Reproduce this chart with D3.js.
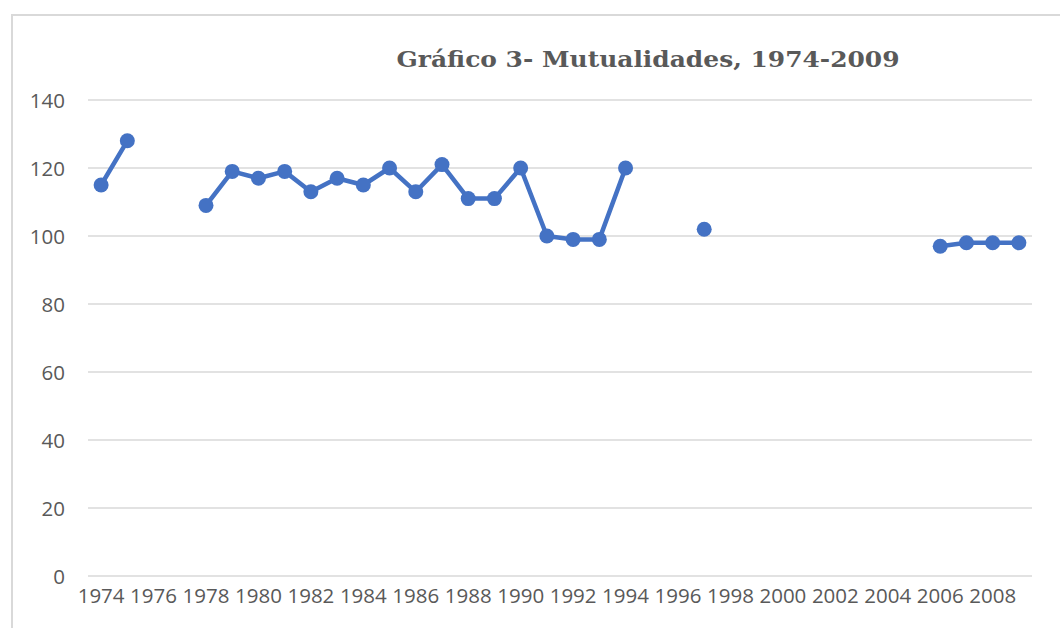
<!DOCTYPE html>
<html>
<head>
<meta charset="utf-8">
<script src="https://cdn.jsdelivr.net/npm/d3@7"></script>
<style>
  body { margin: 0; background: #fff; }
  .tick text { font-family: "Open Sans", Lato, sans-serif; fill: #595959; }
</style>
</head>
<body>
<div id="chart"></div>
<script>
var svgWidth = 1060;
var svgHeight = 628;

// years on the category axis
var years = d3.range(1974, 2010);
// values, null = gap
var values = [115, 128, null, null, 109, 119, 117, 119, 113, 117, 115, 120, 113, 121, 111, 111,
  120, 100, 99, 99, 120, null, null, 102, null, null, null, null, null, null, null, null,
  97, 98, 98, 98];
var yTicks = [0, 20, 40, 60, 80, 100, 120, 140];
var xLabels = years.filter(function(y) { return (y - 1974) % 2 === 0; });

var margin = { top: 100, right: 28, bottom: 52, left: 88 };
var width = svgWidth - margin.left - margin.right;
var height = svgHeight - margin.top - margin.bottom;

var svg = d3.select("#chart")
  .append("svg")
  .attr("width", svgWidth)
  .attr("height", svgHeight);

// outer chart frame
svg.append("rect")
  .attr("x", 12)
  .attr("y", 15)
  .attr("width", 1100)
  .attr("height", 700)
  .attr("fill", "none")
  .attr("stroke", "#d9d9d9")
  .attr("stroke-width", 2);

var chartGroup = svg.append("g")
  .attr("transform", `translate(${margin.left}, ${margin.top})`);

var xScale = d3.scaleBand()
  .domain(years)
  .range([0, width])
  .padding(0);

var yScale = d3.scaleLinear()
  .domain([0, 140])
  .range([height, 0]);

// gridlines
chartGroup.append("g")
  .selectAll("line")
  .data(yTicks)
  .enter()
  .append("line")
  .attr("x1", 0)
  .attr("x2", width)
  .attr("y1", d => yScale(d))
  .attr("y2", d => yScale(d))
  .attr("stroke", "#d9d9d9")
  .attr("stroke-width", 1.5);

// y axis labels
var leftAxis = d3.axisLeft(yScale).tickValues(yTicks).tickSize(0).tickPadding(23);
var yAxis = chartGroup.append("g").call(leftAxis);
yAxis.select(".domain").remove();
yAxis.selectAll("text").attr("font-size", "20.5px").attr("dy", "0.35em");

// x axis labels
var bottomAxis = d3.axisBottom(xScale).tickValues(xLabels).tickSize(0).tickPadding(12);
var xAxis = chartGroup.append("g")
  .attr("transform", `translate(0, ${height})`)
  .call(bottomAxis);
xAxis.select(".domain").remove();
xAxis.selectAll("text").attr("font-size", "20.5px");

var xPos = d => xScale(d.year) + xScale.bandwidth() / 2;
var points = years.map((y, i) => ({ year: y, value: values[i] }));

var line = d3.line()
  .defined(d => d.value !== null)
  .x(xPos)
  .y(d => yScale(d.value));

chartGroup.append("path")
  .datum(points)
  .attr("d", line)
  .attr("fill", "none")
  .attr("stroke", "#4472C4")
  .attr("stroke-width", 4.5)
  .attr("stroke-linejoin", "round");

chartGroup.selectAll("circle")
  .data(points.filter(d => d.value !== null))
  .enter()
  .append("circle")
  .attr("cx", xPos)
  .attr("cy", d => yScale(d.value))
  .attr("r", 7.5)
  .attr("fill", "#4472C4");

// title
svg.append("text")
  .attr("x", 648)
  .attr("y", 67)
  .attr("text-anchor", "middle")
  .attr("font-family", "DejaVu Serif, serif")
  .attr("font-weight", "bold")
  .attr("font-size", "23px")
  .attr("textLength", 503)
  .attr("lengthAdjust", "spacingAndGlyphs")
  .attr("fill", "#595959")
  .text("Gráfico 3- Mutualidades, 1974-2009");
</script>
</body>
</html>
